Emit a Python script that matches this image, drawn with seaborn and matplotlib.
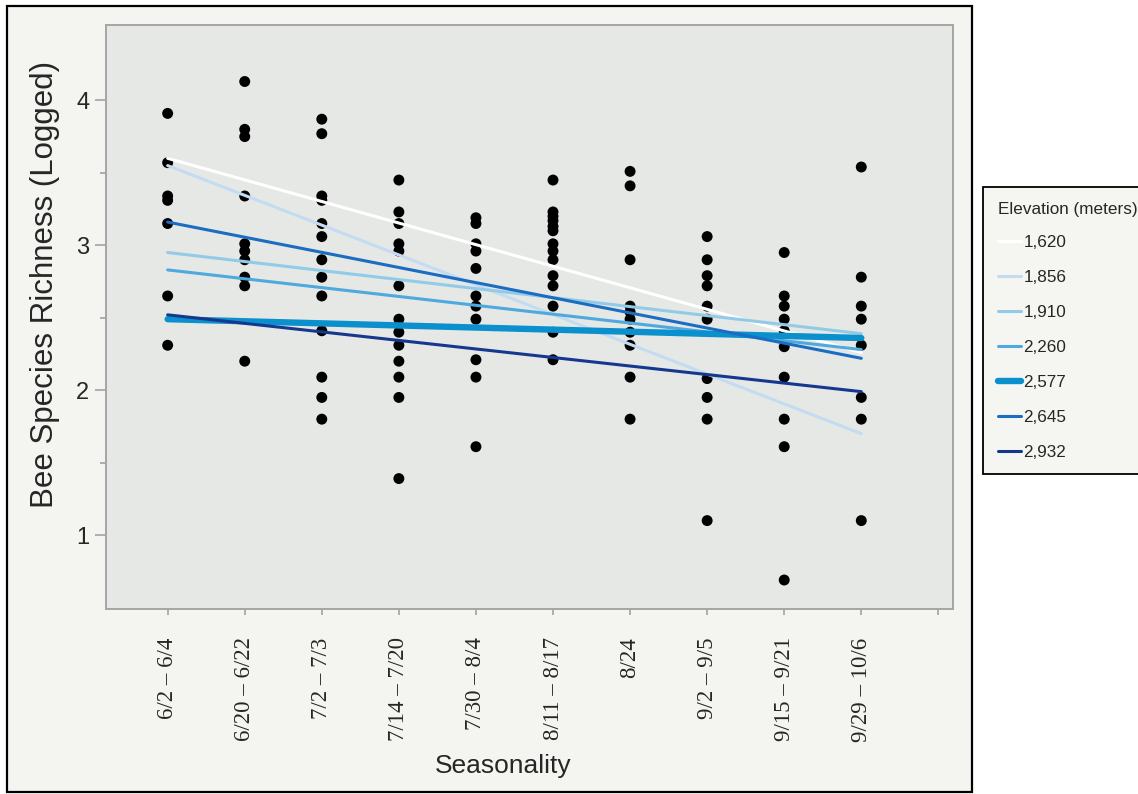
import numpy as np
import pandas as pd
import matplotlib
matplotlib.use("Agg")
import matplotlib.pyplot as plt
import seaborn as sns
from matplotlib.patches import Rectangle
from matplotlib.lines import Line2D

# ---------------- data ----------------
periods = ["6/2 – 6/4", "6/20 – 6/22", "7/2 – 7/3", "7/14 – 7/20", "7/30 – 8/4",
           "8/11 – 8/17", "8/24", "9/2 – 9/5", "9/15 – 9/21", "9/29 – 10/6"]

rich_p1 = [3.91, 3.57, 3.34, 3.31, 3.15, 2.65, 2.31]
rich_p2 = [4.13, 3.80, 3.75, 3.34, 3.01, 2.96, 2.90, 2.78, 2.72, 2.20]
rich_p3 = [3.87, 3.77, 3.34, 3.31, 3.15, 3.06, 2.90, 2.78, 2.65, 2.41, 2.09, 1.95, 1.80]
rich_p4 = [3.45, 3.23, 3.15, 3.01, 2.96, 2.72, 2.49, 2.40, 2.31, 2.20, 2.09, 1.95, 1.39]
rich_p5 = [3.19, 3.15, 3.01, 2.96, 2.84, 2.65, 2.58, 2.49, 2.21, 2.09, 1.61]
rich_p6 = [3.45, 3.23, 3.20, 3.17, 3.13, 3.10, 3.01, 2.96, 2.90, 2.79, 2.72, 2.58, 2.40, 2.21]
rich_p7 = [3.51, 3.41, 2.90, 2.58, 2.54, 2.49, 2.40, 2.31, 2.09, 1.80]
rich_p8 = [3.06, 2.90, 2.79, 2.72, 2.58, 2.49, 2.08, 1.95, 1.80, 1.10]
rich_p9 = [2.95, 2.65, 2.58, 2.49, 2.41, 2.30, 2.09, 1.80, 1.61, 0.69]
rich_p10 = [3.54, 2.78, 2.58, 2.49, 2.31, 1.95, 1.80, 1.10]

elevations = ["1,620", "1,856", "1,910", "2,260", "2,577", "2,645", "2,932"]
fit_start = [3.60, 3.55, 2.95, 2.83, 2.49, 3.16, 2.52]   # fitted value at first period
fit_end = [2.26, 1.70, 2.39, 2.28, 2.36, 2.22, 1.99]     # fitted value at last period

# ---------------- styling ----------------
line_colors = ["#ffffff", "#c3dcf2", "#92cbe8", "#4ea9de", "#0a90cc", "#1b6dc1", "#16378e"]
line_widths = [2.2, 2.2, 2.2, 2.2, 4.6, 2.2, 2.2]

sns.set_theme(style="white")
plt.rcParams["font.family"] = ["Liberation Sans", "DejaVu Sans"]

all_rich = [rich_p1, rich_p2, rich_p3, rich_p4, rich_p5,
            rich_p6, rich_p7, rich_p8, rich_p9, rich_p10]
pts = pd.DataFrame({
    "pos": np.concatenate([[i] * len(v) for i, v in enumerate(all_rich)]),
    "richness": np.concatenate(all_rich),
})

W, H = 1138, 794
fig = plt.figure(figsize=(W / 100, H / 100), dpi=100, facecolor="white")

# outer framed panel
frame = Rectangle((7 / W, 1 - 792 / H), (972 - 7) / W, (792 - 6) / H,
                  transform=fig.transFigure, facecolor="#f4f5f0",
                  edgecolor="black", linewidth=1.6, zorder=-5)
fig.add_artist(frame)

ax = fig.add_axes([106 / W, 1 - 609 / H, (953 - 106) / W, (609 - 25) / H])
ax.set_facecolor("#e6e8e6")

sns.scatterplot(data=pts, x="pos", y="richness", color="black", s=62,
                edgecolor="none", ax=ax, zorder=2, legend=False)

handles = []
for i, elev in enumerate(elevations):
    seg = pd.DataFrame({"pos": [0, len(periods) - 1], "val": [fit_start[i], fit_end[i]]})
    sns.lineplot(data=seg, x="pos", y="val", color=line_colors[i],
                 linewidth=line_widths[i], ax=ax, zorder=3)
    handles.append(Line2D([0], [0], color=line_colors[i], lw=line_widths[i]))

ax.set_xlim(-0.8, 10.19)
ax.set_ylim(0.49, 4.52)

ax.set_xticks(range(len(periods) + 1))
ax.set_xticklabels(periods + [""], rotation=90, fontsize=16.5,
                   family=["Liberation Serif", "DejaVu Serif"])
ax.set_yticks([1, 2, 3, 4])
ax.set_yticklabels(["1", "2", "3", "4"], fontsize=17)
ax.set_yticks([1.5, 2.5, 3.5], minor=True)

ax.tick_params(axis="y", which="major", direction="out", length=8, width=1.1,
               color="#9a9a9a", pad=4, left=True)
ax.tick_params(axis="y", which="minor", direction="out", length=4.5, width=1.1,
               color="#9a9a9a", left=True)
ax.tick_params(axis="x", which="major", direction="out", length=4.5, width=1.1,
               color="#9a9a9a", pad=16, bottom=True)

for s in ax.spines.values():
    s.set_color("#a5a5a5")
    s.set_linewidth(1.4)

ax.set_xlabel("Seasonality", fontsize=19, va="center")
ax.xaxis.set_label_coords(0.469, -0.269)
ax.set_ylabel("Bee Species Richness (Logged)", fontsize=22.5, va="center")
ax.yaxis.set_label_coords(-0.072, 0.556)

leg = fig.legend(handles=handles, labels=elevations, loc="upper left",
                 bbox_to_anchor=(983 / W, 1 - 187 / H), bbox_transform=fig.transFigure,
                 title="Elevation (meters)", alignment="left", frameon=True,
                 fancybox=False, edgecolor="black", facecolor="#f5f5f1", framealpha=1,
                 fontsize=12.3, title_fontsize=12.3, handlelength=1.4,
                 handletextpad=0.12, labelspacing=1.17, borderpad=0.85, borderaxespad=0)
leg.get_frame().set_linewidth(1.3)
leg._legend_box.sep = 13

fig.savefig("out.png", dpi=100, facecolor="white")
